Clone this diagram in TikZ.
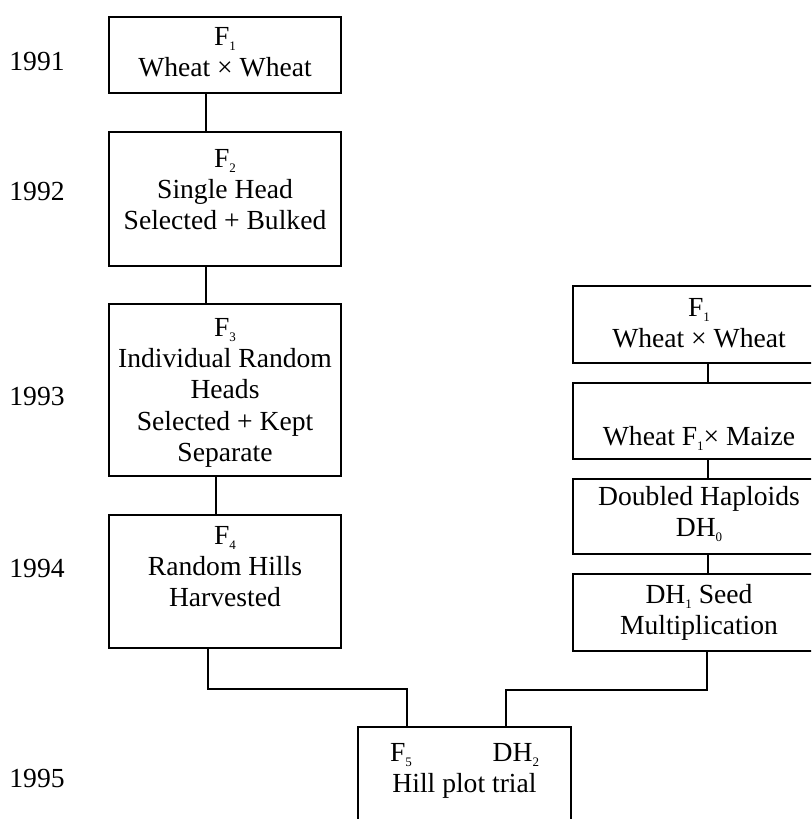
\documentclass[tikz,border=0pt]{standalone}
\usepackage{fontspec}
\setmainfont{Liberation Serif}
\usetikzlibrary{calc,positioning}
\newcommand\sbs[1]{\raisebox{-2.5pt}{\fontsize{6.5}{6.5}\selectfont #1}}

\begin{document}
\begin{tikzpicture}[x=0.5pt,y=-0.5pt]
    \tikzset{font={\fontsize{13.8pt}{15.6pt}\selectfont}}
    \tikzset{box/.style={draw,line width=1pt,anchor=north west,inner sep=0pt},
             txt/.style={align=center,inner sep=0pt},
             yr/.style={anchor=base},
             link/.style={line width=1pt}}
    \useasboundingbox (0,0) rectangle (811,819);
    \clip (0,0) rectangle (811,819);
    % years
    \node[yr] (y1) at (37,70) {1991};
    \node[yr] (y2) at (37,200) {1992};
    \node[yr] (y3) at (37,405) {1993};
    \node[yr] (y4) at (37,577) {1994};
    \node[yr] (y5) at (37,787) {1995};
    % left column
    \node[box,minimum width=116pt,minimum height=38pt] (f1) at (108,16) {};
    \node[txt,below=5.5pt of f1.north] (t1) {F\sbs{1}\\Wheat × Wheat};
    \node[box,minimum width=116pt,minimum height=67pt] (f2) at (108,131) {};
    \node[txt,below=9pt of f2.north] (t2) {F\sbs{2}\\Single Head\\Selected + Bulked};
    \node[box,minimum width=116pt,minimum height=86pt] (f3) at (108,303) {};
    \node[txt,below=7.5pt of f3.north] (t3) {F\sbs{3}\\Individual Random\\Heads\\Selected + Kept\\Separate};
    \node[box,minimum width=116pt,minimum height=66.5pt] (f4) at (108,514) {};
    \node[txt,below=6pt of f4.north] (t4) {F\sbs{4}\\Random Hills\\Harvested};
    % right column
    \node[box,minimum width=126pt,minimum height=38.5pt] (r1) at (572,285) {};
    \node[txt,below=6.5pt of r1.north] (s1) {F\sbs{1}\\Wheat × Wheat};
    \node[box,minimum width=126pt,minimum height=38pt] (r2) at (572,382) {};
    \node[txt,below=22pt of r2.north] (s2) {Wheat F\sbs{1}× Maize};
    \node[box,minimum width=126pt,minimum height=37.5pt] (r3) at (572,478) {};
    \node[txt,below=4pt of r3.north] (s3) {Doubled Haploids\\DH\sbs{0}};
    \node[box,minimum width=126pt,minimum height=38.5pt] (r4) at (572,573) {};
    \node[txt,below=5.5pt of r4.north] (s4) {DH\sbs{1} Seed\\Multiplication};
    % trial
    \node[box,minimum width=106.5pt,minimum height=70pt] (h5) at (357,726) {};
    \node[txt,below=8.5pt of h5.north] (t5) {\makebox[74.5pt]{F\sbs{5}\hfill DH\sbs{2}}\\Hill plot trial};
    % links
    \draw[link] ($(f1.south)+(-19,0)$) -- ($(f2.north)+(-19,0)$);
    \draw[link] ($(f2.south)+(-19,0)$) -- ($(f3.north)+(-19,0)$);
    \draw[link] ($(f3.south)+(-9,0)$) -- ($(f4.north)+(-9,0)$);
    \draw[link] ($(r1.south)+(9,0)$) -- ($(r2.north)+(9,0)$);
    \draw[link] ($(r2.south)+(9,0)$) -- ($(r3.north)+(9,0)$);
    \draw[link] ($(r3.south)+(9,0)$) -- ($(r4.north)+(9,0)$);
    \draw[link] ($(f4.south)+(-17,0)$) -- ++(0,40) -| ($(h5.north)+(-57.5,0)$);
    \draw[link] ($(r4.south)+(8,0)$) -- ++(0,38) -| ($(h5.north)+(41.5,0)$);
\end{tikzpicture}
\end{document}
